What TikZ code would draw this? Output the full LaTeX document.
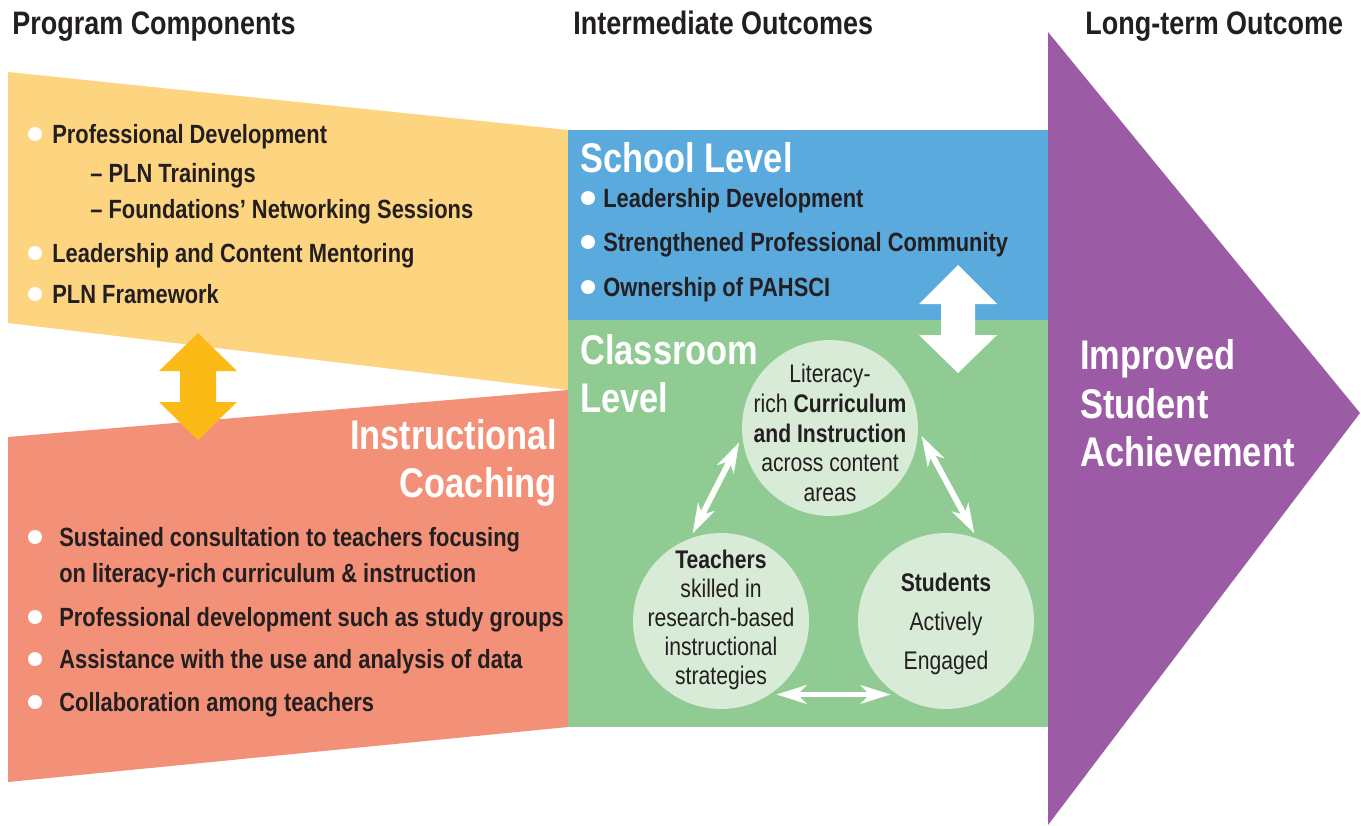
\documentclass[tikz,border=0pt]{standalone}
\usepackage{fontspec}
\setmainfont{Liberation Sans}[FakeStretch=0.83]
\usepackage{tikz}
\usetikzlibrary{arrows.meta}
\definecolor{ink}{RGB}{35,31,32}
\definecolor{progyellow}{RGB}{253,212,128}
\definecolor{coachred}{RGB}{243,145,120}
\definecolor{schoolblue}{RGB}{91,170,221}
\definecolor{classgreen}{RGB}{143,203,146}
\definecolor{bubblegreen}{RGB}{216,235,214}
\definecolor{outpurple}{RGB}{155,91,165}
\definecolor{arrowgold}{RGB}{252,186,22}
\tikzstyle{head} = [anchor=base west, inner sep=0pt, text=ink, font=\fontsize{18.5}{22}\selectfont\bfseries]
\tikzstyle{item} = [anchor=base west, inner sep=0pt, text=ink, font=\fontsize{15}{18}\selectfont\bfseries]
\tikzstyle{big} = [anchor=base west, inner sep=0pt, text=white, font=\fontsize{23.6}{27}\selectfont\bfseries]
\tikzstyle{bubble} = [circle, fill=bubblegreen, minimum size=3.52cm, inner sep=0pt, outer sep=0.08cm]
\tikzstyle{bubtext} = [align=center, inner sep=0pt, text=ink]
\tikzstyle{link} = [white, line width=3.3pt, {Stealth[length=17pt, width=10.5pt, inset=5pt]}-{Stealth[length=17pt, width=10.5pt, inset=5pt]}]

\begin{document}
\begin{tikzpicture}[x=0.02cm, y=-0.02cm]
		\useasboundingbox (0,0) rectangle (1361,825);
		
		% column titles
		\node[head] (tprog) at (12,34) {Program Components};
		\node[head] (tinter) at (573,34) {Intermediate Outcomes};
		\node[head] (tlong) at (1085,34) {Long-term Outcome};
		
		% program components
		\fill[progyellow] (8,72) -- (568,130) -- (568,390) -- (8,323) -- cycle;
		\fill[coachred] (8,437) -- (568,390) -- (568,727) -- (8,782) -- cycle;
		\fill[arrowgold] (198,333) -- (237,371) -- (216,371) -- (216,402) -- (237,402) -- (198,440)
			-- (159,402) -- (180,402) -- (180,371) -- (159,371) -- cycle;
		
		\fill[white] (35,134) circle (7);
		\fill[white] (35,253) circle (7);
		\fill[white] (35,294) circle (7);
		\node[item] (pd) at (52,143.5) {Professional Development};
		\node[item] (pln) at (90,182.5) {-- PLN Trainings};
		\node[item] (fns) at (90,218.5) {-- Foundations’ Networking Sessions};
		\node[item] (lcm) at (52,262.5) {Leadership and Content Mentoring};
		\node[item] (plf) at (52,303.5) {PLN Framework};
		
		\node[big, anchor=base east] (ic1) at (557,449.5) {Instructional};
		\node[big, anchor=base east] (ic2) at (557,497.5) {Coaching};
		\fill[white] (35,537) circle (7);
		\fill[white] (35,617) circle (7);
		\fill[white] (35,659) circle (7);
		\fill[white] (35,702) circle (7);
		\node[item] (sc1) at (59,546.5) {Sustained consultation to teachers focusing};
		\node[item] (sc2) at (59,582.5) {on literacy-rich curriculum \& instruction};
		\node[item] (psg) at (59,626.5) {Professional development such as study groups};
		\node[item] (aud) at (59,668.5) {Assistance with the use and analysis of data};
		\node[item] (cat) at (59,711.5) {Collaboration among teachers};
		
		% intermediate outcomes
		\fill[schoolblue] (568,130) rectangle (1048,320);
		\fill[classgreen] (568,320) rectangle (1048,727);
		\fill[white] (958,265) -- (997,304) -- (975,304) -- (975,335) -- (997,335) -- (958,373)
			-- (919,335) -- (941,335) -- (941,304) -- (919,304) -- cycle;
		
		\node[big] (school) at (580,172.5) {School Level};
		\fill[white] (588,198) circle (7);
		\fill[white] (588,242) circle (7);
		\fill[white] (588,287) circle (7);
		\node[item] (ld) at (603,207.5) {Leadership Development};
		\node[item] (spc) at (603,251.5) {Strengthened Professional Community};
		\node[item] (own) at (603,296.5) {Ownership of PAHSCI};
		
		\node[big] (class1) at (580,364.5) {Classroom};
		\node[big] (class2) at (580,412.5) {Level};
		
		\node[bubble] (cur) at (830,428) {};
		\node[bubble] (tea) at (721,621) {};
		\node[bubble] (stu) at (946,621) {};
		\node[bubtext, font=\fontsize{14.5}{17}\selectfont] (curtxt) at (830,433)
			{Literacy-\\rich \textbf{Curriculum}\\\textbf{and Instruction}\\across content\\areas};
		\node[bubtext, font=\fontsize{14.5}{16.5}\selectfont] (teatxt) at (721,620)
			{\textbf{Teachers}\\skilled in\\research-based\\instructional\\strategies};
		\node[bubtext, font=\fontsize{14.5}{22}\selectfont] (stutxt) at (946,624)
			{\textbf{Students}\\Actively\\Engaged};
		
		\draw[link] (tea.108) -- (cur.189);
		\draw[link] (cur.-5) -- (stu.72);
		\draw[link] (tea.-53) -- (stu.-127);
		
		% long-term outcome
		\fill[outpurple] (1048,32) -- (1360,413) -- (1048,825) -- cycle;
		\node[big] (imp1) at (1080,369.5) {Improved};
		\node[big] (imp2) at (1080,418.5) {Student};
		\node[big] (imp3) at (1080,466.5) {Achievement};
	\end{tikzpicture}
\end{document}
